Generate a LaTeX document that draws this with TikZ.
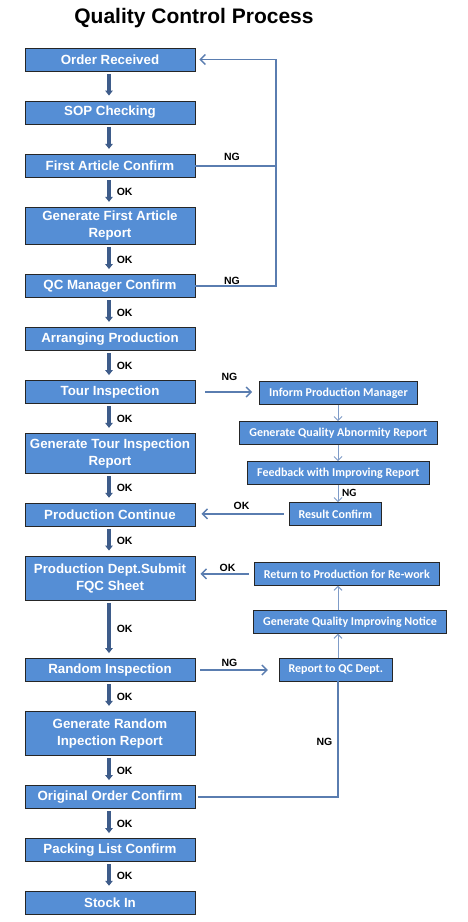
\documentclass[tikz,border=0pt]{standalone}
\usepackage{fontspec}
\setmainfont{Liberation Sans}
\newfontfamily\smallfont{Carlito}
\usetikzlibrary{arrows.meta,calc}
\definecolor{boxfill}{HTML}{558ED5}
\definecolor{thickarr}{HTML}{3E5C8A}
\definecolor{lineblue}{HTML}{5A7DB0}
\definecolor{lightline}{HTML}{7F9CC8}
\begin{document}
\begin{tikzpicture}[x=1pt,y=-1pt,
  mainbox/.style={draw=black!85,line width=0.9pt,fill=boxfill,text=white,
    font=\fontsize{13.3}{17}\selectfont\bfseries,minimum width=170pt,inner sep=0pt,
    align=center,anchor=center},
  sidebox/.style={draw=black!85,line width=0.9pt,fill=boxfill,text=white,
    font=\smallfont\fontsize{12}{13}\selectfont\bfseries,inner sep=0pt,
    minimum height=22.5pt,anchor=center},
  thickarrow/.style={draw=thickarr,line width=3.6pt,
    -{Triangle[width=7.5pt,length=5pt]},shorten <=2.5pt,shorten >=5pt},
  oklbl/.style={right,xshift=6pt,inner sep=0pt,font=\fontsize{10.5}{12}\selectfont\bfseries},
  lbl/.style={inner sep=0pt,font=\fontsize{10.5}{12}\selectfont\bfseries},
  conn/.style={draw=lineblue,line width=1.4pt},
  connarrow/.style={conn,-{Straight Barb[length=5pt,width=10pt,line width=1.4pt]}},
  thinarrow/.style={draw=lightline,line width=1pt,-{Straight Barb[length=4pt,width=8pt,line width=1pt]}}
]
\useasboundingbox[fill=white] (0,0) rectangle (468,922);

\node[font=\fontsize{21}{24}\selectfont\bfseries] (title) at (194,18) {Quality Control Process};

% main column
\node[mainbox,minimum height=23pt] (OR)   at (110,59.5)  {Order Received};
\node[mainbox,minimum height=23pt] (SOP)  at (110,112.5) {SOP Checking};
\node[mainbox,minimum height=23pt] (FAC)  at (110,165.8) {First Article Confirm};
\node[mainbox,minimum height=37pt] (GFAR) at (110,225.8) {Generate First Article\\Report};
\node[mainbox,minimum height=23pt] (QCM)  at (110,286)   {QC Manager Confirm};
\node[mainbox,minimum height=23pt] (AP)   at (110,338.8) {Arranging Production};
\node[mainbox,minimum height=23pt] (TI)   at (110,392)   {Tour Inspection};
\node[mainbox,minimum height=40pt] (GTIR) at (110,453.3) {Generate Tour Inspection\\Report};
\node[mainbox,minimum height=23pt] (PC)   at (110,514.7) {Production Continue};
\node[mainbox,minimum height=44pt] (FQC)  at (110,578)   {Production Dept.Submit\\FQC Sheet};
\node[mainbox,minimum height=23pt] (RI)   at (110,670)   {Random Inspection};
\node[mainbox,minimum height=44pt] (GRIR) at (110,733.3) {Generate Random\\Inpection Report};
\node[mainbox,minimum height=23pt] (OOC)  at (110,797)   {Original Order Confirm};
\node[mainbox,minimum height=23pt] (PLC)  at (110,850)   {Packing List Confirm};
\node[mainbox,minimum height=23pt] (SI)   at (110,902.7) {Stock In};

% side column
\node[sidebox,minimum width=158pt] (IPM)  at (338.5,393)   {Inform Production Manager};
\node[sidebox,minimum width=198pt] (GQAR) at (338.3,432.9) {Generate Quality Abnormity Report};
\node[sidebox,minimum width=182pt] (FIR)  at (338.3,472.9) {Feedback with Improving Report};
\node[sidebox,minimum width=92.7pt] (RC)  at (335.3,513.9) {Result Confirm};
\node[sidebox,minimum width=185pt] (RPR)  at (346.8,573.9) {Return to Production for Re-work};
\node[sidebox,minimum width=193.4pt] (GQIN) at (350,622)   {Generate Quality Improving Notice};
\node[sidebox,minimum width=113pt] (RQC)  at (335.8,669.7) {Report to QC Dept.};

\coordinate (ax) at (109,0);
\coordinate (lx) at (276,0);
\coordinate (rx) at (338,0);

% thick main arrows
\draw[thickarrow] (OR.south -| ax) -- (SOP.north -| ax);
\draw[thickarrow] (SOP.south -| ax) -- (FAC.north -| ax);
\draw[thickarrow] (FAC.south -| ax) -- node[oklbl]{OK} (GFAR.north -| ax);
\draw[thickarrow] (GFAR.south -| ax) -- node[oklbl]{OK} (QCM.north -| ax);
\draw[thickarrow] (QCM.south -| ax) -- node[oklbl]{OK} (AP.north -| ax);
\draw[thickarrow] (AP.south -| ax) -- node[oklbl]{OK} (TI.north -| ax);
\draw[thickarrow] (TI.south -| ax) -- node[oklbl]{OK} (GTIR.north -| ax);
\draw[thickarrow] (GTIR.south -| ax) -- node[oklbl]{OK} (PC.north -| ax);
\draw[thickarrow] (PC.south -| ax) -- node[oklbl]{OK} (FQC.north -| ax);
\draw[thickarrow] (FQC.south -| ax) -- node[oklbl]{OK} (RI.north -| ax);
\draw[thickarrow] (RI.south -| ax) -- node[oklbl]{OK} (GRIR.north -| ax);
\draw[thickarrow] (GRIR.south -| ax) -- node[oklbl]{OK} (OOC.north -| ax);
\draw[thickarrow] (OOC.south -| ax) -- node[oklbl]{OK} (PLC.north -| ax);
\draw[thickarrow] (PLC.south -| ax) -- node[oklbl]{OK} (SI.north -| ax);

% top NG loop
\draw[conn] (FAC.east) -- (FAC.east -| lx);
\draw[connarrow,shorten >=4pt] (QCM.east) -- (QCM.east -| lx) -- (OR.east -| lx) -- (OR.east);
\node[lbl] (ng1) at (232,157.3) {NG};
\node[lbl] (ng2) at (232,280.7) {NG};

% tour inspection branch
\draw[connarrow,shorten <=10pt,shorten >=7pt] (TI.east) -- (TI.east -| IPM.west);
\node[lbl] (ng3) at (229.5,376.7) {NG};
\draw[thinarrow] (IPM.south -| rx) -- (GQAR.north -| rx);
\draw[thinarrow] (GQAR.south -| rx) -- (FIR.north -| rx);
\draw[thinarrow] (FIR.south -| rx) -- (RC.north -| rx);
\node[lbl,anchor=west,font=\smallfont\fontsize{11}{12}\selectfont\bfseries] (ng4) at (342,492.7) {NG};
\draw[connarrow,shorten <=5pt,shorten >=6pt] (RC.west) -- (RC.west -| PC.east);
\node[lbl] (ok1) at (241.5,505.7) {OK};

% random inspection branch
\draw[connarrow,shorten <=5pt,shorten >=11pt] (RI.east) -- (RI.east -| RQC.west);
\node[lbl] (ng5) at (229.5,662.7) {NG};
\draw[thinarrow] (RQC.north -| rx) -- (GQIN.south -| rx);
\draw[thinarrow] (GQIN.north -| rx) -- (RPR.south -| rx);
\draw[connarrow,shorten <=5pt,shorten >=5pt] (RPR.west) -- (RPR.west -| FQC.east);
\node[lbl] (ok2) at (227.5,568) {OK};

% original order NG loop
\draw[conn,shorten <=3pt] (OOC.east) -- (OOC.east -| rx) -- (RQC.south -| rx);
\node[lbl] (ng6) at (324.5,741.7) {NG};
\end{tikzpicture}
\end{document}
